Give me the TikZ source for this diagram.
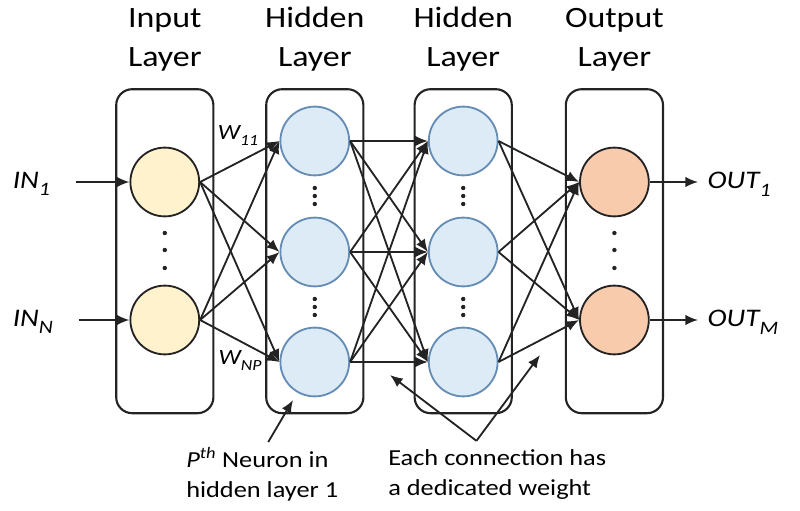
\documentclass[tikz,border=0pt]{standalone}
\usepackage{fontspec}
\setmainfont[FakeStretch=1.15]{Carlito}
\usetikzlibrary{arrows.meta, positioning}
\definecolor{cDark}{RGB}{35,35,35}
\definecolor{cFillIn}{RGB}{255,242,204}
\definecolor{cFillHid}{RGB}{221,235,247}
\definecolor{cHidLine}{RGB}{100,140,180}
\definecolor{cFillOut}{RGB}{248,203,173}
\newcommand{\lsub}[2][13.5]{\raisebox{-0.3em}{\fontsize{#1}{#1}\selectfont #2}}
\tikzset{
  layer/.style={draw=cDark, rounded corners=0.4cm, line width=1.5pt,
                minimum width=2.43cm, minimum height=8.1cm},
  nrn/.style  ={circle, minimum size=1.72cm, inner sep=0pt, line width=1.3pt},
  nIn/.style  ={nrn, draw=cDark,    fill=cFillIn},
  nHid/.style ={nrn, draw=cHidLine, fill=cFillHid},
  nOut/.style ={nrn, draw=cDark,    fill=cFillOut},
  myarr/.style={-{Latex[length=9pt,width=7.5pt]}, line width=1.3pt, draw=cDark},
  ttl/.style  ={align=center, inner sep=0pt, font=\fontsize{21}{28.4}\selectfont},
  io/.style   ={inner sep=1pt, font=\fontsize{18}{20}\selectfont\itshape},
  wlbl/.style ={inner sep=0pt, font=\fontsize{15.5}{17}\selectfont\itshape},
  note/.style ={align=left, inner sep=0pt, font=\fontsize{16.3}{21.3}\selectfont},
}

\begin{document}
\begin{tikzpicture}
\useasboundingbox (0,0) rectangle (20,12.75);

%% ============================================================
%% LAYER BOXES + TITLES
%% ============================================================
\node[layer] (bIn)  at ( 4.12, 6.47) {};
\node[layer] (bH1)  at ( 7.87, 6.47) {};
\node[layer] (bH2)  at (11.58, 6.47) {};
\node[layer] (bOut) at (15.36, 6.47) {};

% base = last line of the title
\node[ttl, anchor=base] (tIn)  at ( 4.12, 11.075) {Input\\Layer};
\node[ttl, anchor=base] (tH1)  at ( 7.87, 11.075) {Hidden\\Layer};
\node[ttl, anchor=base] (tH2)  at (11.58, 11.075) {Hidden\\Layer};
\node[ttl, anchor=base] (tOut) at (15.36, 11.075) {Output\\Layer};

%% ============================================================
%% NEURONS
%% ============================================================
\node[nIn]  (in1)  at ( 4.12, 8.2)   {};
\node[nIn]  (inN)  at ( 4.12, 4.75)  {};

\node[nHid] (h1a)  at ( 7.87, 9.225) {};
\node[nHid] (h1b)  at ( 7.87, 6.45)  {};
\node[nHid] (h1c)  at ( 7.87, 3.7)   {};

\node[nHid] (h2a)  at (11.58, 9.225) {};
\node[nHid] (h2b)  at (11.58, 6.45)  {};
\node[nHid] (h2c)  at (11.58, 3.7)   {};

\node[nOut] (out1) at (15.36, 8.2)   {};
\node[nOut] (outM) at (15.36, 4.75)  {};

% vertical dots
\foreach \y in {6.925, 6.5, 6.05} {
  \fill[cDark] ( 4.12,\y) circle (0.055);
  \fill[cDark] (15.36,\y) circle (0.055);
}
\foreach \y in {8.05, 7.85, 7.65, 5.275, 5.075, 4.875} {
  \fill[cDark] ( 7.87,\y) circle (0.055);
  \fill[cDark] (11.58,\y) circle (0.055);
}

%% ============================================================
%% INPUTS / OUTPUTS
%% ============================================================
\node[io, anchor=west] (lIn1)  at ( 0.28, 8.15)  {IN\lsub{1}};
\node[io, anchor=west] (lInN)  at ( 0.28, 4.7)   {IN\lsub{N}};
\node[io, anchor=west] (lOut1) at (17.65, 8.15)  {OUT\lsub{1}};
\node[io, anchor=west] (lOutM) at (17.65, 4.7)   {OUT\lsub{M}};

\draw[myarr, shorten <=0.6cm] (lIn1.east |- in1) -- (in1.west);
\draw[myarr, shorten <=0.6cm] (lInN.east |- inN) -- (inN.west);
\draw[myarr, shorten >=0.2cm] (out1.east) -- (lOut1.west |- out1);
\draw[myarr, shorten >=0.2cm] (outM.east) -- (lOutM.west |- outM);

%% ============================================================
%% INPUT  -->  HIDDEN 1
%% ============================================================
\draw[myarr] (in1.east) -- (h1a.west);
\draw[myarr] (in1.east) -- (h1b.west);
\draw[myarr] (in1.east) -- (h1c.west);
\draw[myarr] (inN.east) -- (h1a.west);
\draw[myarr] (inN.east) -- (h1b.west);
\draw[myarr] (inN.east) -- (h1c.west);

\node[wlbl] (w11) at (5.95, 9.36) {W\lsub[11]{11}};
\node[wlbl] (wNP) at (6.0, 3.74)  {W\lsub[11]{NP}};

%% ============================================================
%% HIDDEN 1  -->  HIDDEN 2
%% ============================================================
\draw[myarr] (h1a.east) -- (h2a.west);
\draw[myarr] (h1a.east) -- (h2b.west);
\draw[myarr] (h1a.east) -- (h2c.west);
\draw[myarr] (h1b.east) -- (h2a.west);
\draw[myarr] (h1b.east) -- (h2b.west);
\draw[myarr] (h1b.east) -- (h2c.west);
\draw[myarr] (h1c.east) -- (h2a.west);
\draw[myarr] (h1c.east) -- (h2b.west);
\draw[myarr] (h1c.east) -- (h2c.west);

%% ============================================================
%% HIDDEN 2  -->  OUTPUT
%% ============================================================
\draw[myarr] (h2a.east) -- (out1.west);
\draw[myarr] (h2b.east) -- (out1.west);
\draw[myarr] (h2c.east) -- (out1.west);
\draw[myarr] (h2a.east) -- (outM.west);
\draw[myarr] (h2b.east) -- (outM.west);
\draw[myarr] (h2c.east) -- (outM.west);

%% ============================================================
%% NOTES  (bottom) -- base = last line
%% ============================================================
\node[note, anchor=base west] (pNote) at (4.65, 0.325)
  {\textit{P}\textsuperscript{\textit{th}} Neuron in\\hidden layer 1};
\node[note, anchor=base west] (wNote) at (9.7, 0.375)
  {Each connection has\\a dedicated weight};

\coordinate (pTip)  at ( 7.325, 2.75);
\coordinate (wTipL) at ( 9.75,  3.375);
\coordinate (wTipR) at (13.5,   3.875);

\draw[myarr] ([xshift=0.15cm, yshift=0.12cm]pNote.north) -- (pTip);
\draw[myarr] ([xshift=-0.52cm, yshift=0.2cm]wNote.north) -- (wTipL);
\draw[myarr] ([xshift=-0.52cm, yshift=0.2cm]wNote.north) -- (wTipR);

\end{tikzpicture}
\end{document}
